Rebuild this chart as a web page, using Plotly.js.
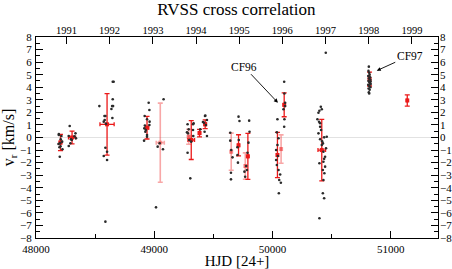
<!DOCTYPE html>
<html>
<head>
<meta charset="utf-8">
<script src="https://cdn.plot.ly/plotly-3.0.1.min.js"></script>
<style>html,body{margin:0;padding:0;background:#fff}#chart{width:452px;height:269px}</style>
</head>
<body>
<div id="chart"></div>
<script>
// Individual RV measurements (HJD-2400000, km/s)
const dotX = [
  48193,48215,48209,48190,48207,48224,48201,48193,48221,48198,48203,
  48285,48334,48277,48338,48296,48302,48291,48277,48325,
  48536,48649,48657,48649,48644,48652,48638,48579,48587,48581,48573,48591,48646,48587,48601,48573,48601,48587,
  48953,48959,48919,48939,48961,48959,48916,48925,48939,48914,48939,48921,48929,
  49079,49029,49074,49015,49046,
  49282,49291,49328,49328,49285,49296,49330,49282,49305,49313,49333,49277,
  49432,49446,49389,49437,49426,49446,49421,49429,49412,
  49643,49643,49662,49649,49649,49651,49713,49721,49704,49708,49704,49715,49803,49806,49797,49789,49778,49784,49769,49763,
  50099,50101,50107,50107,50093,50101,50099,50042,50037,50051,50042,50031,50046,50031,50037,50051,50065,50057,50071,50054,
  50389,50397,50409,50417,50380,50394,50403,50403,50389,50403,50437,50459,50417,50427,50453,50431,50445,50431,50397,50445,50426,50439,50431,50426,50437,50397,50451,50411,50420,50437,
  50815,50812,50818,50822,50810,50826,50815,50828,50812,50820,50826,50810,50818,50828,50813,50822,50815,50818,50830,50830
];
const dotV = [
  0.2,0.12,-0.14,-0.52,-0.7,-0.94,-1.53,0.28,-0.33,-0.78,-0.45,
  0.92,0.33,0.12,-0.06,-0.14,-0.2,-0.46,-0.68,0.1,
  2.5,4.44,4.44,3.04,2.5,2.5,2.27,1.71,1.71,1.39,1.26,1.1,1.55,-0.81,-1.13,-1.47,-1.79,-6.7,
  2.77,2.19,1.71,1.45,1.26,1.0,0.73,0.46,0.2,-0.25,0.06,0.95,0.6,
  3.04,-0.73,-0.94,-5.56,-0.46,
  1.05,0.65,1.05,0.6,0.33,-0.2,0.12,-1.21,-3.25,-0.33,1.13,0.42,
  1.74,1.39,0.65,1.0,0.46,0.12,1.18,1.71,1.23,
  0.38,-0.25,-1.58,-2.8,-3.33,-1.0,1.66,1.31,-1.39,-2.0,-0.78,-0.2,1.34,0.46,-0.41,-1.21,-2.27,-2.59,-3.12,-2.72,
  4.44,3.5,2.77,2.5,2.25,1.45,0.86,1.45,0.41,-0.06,-0.6,-1.0,-1.47,-1.79,-2.19,-2.59,-2.95,-3.38,-3.6,-4.44,
  1.97,2.13,2.45,2.25,1.45,1.25,0.86,1.13,0.33,-0.14,0.01,0.06,-0.6,-0.47,-0.86,-1.13,-1.53,-1.93,-2.05,-2.32,-2.59,-2.85,-3.38,-4.44,-4.84,-6.43,6.75,0.6,-0.3,-1.7,
  5.64,5.3,5.15,5.0,4.9,4.8,4.7,4.6,4.5,4.4,4.3,4.2,4.1,4.0,3.9,3.8,3.6,3.5,4.45,4.25
];

// Mean values with error bars (strong)
const meanX  = [48207,48305,48601,48939,49313,49383,49431,49713,49792,50099,50042,50417,50821,51140];
const meanV  = [-0.4, 0.0, 1.05, 0.78,-0.2, 0.35, 1.05,-0.62,-1.5, 2.6,-1.39,-1.0, 4.65, 2.95];
const meanEV = [0.65, 0.5, 2.45, 0.9, 1.55, 0.3, 0.35, 0.84, 1.83,0.95, 1.8, 2.45, 0.55, 0.45];
const meanEX = [10, 30, 60, 15, 28, 8, 10, 5, 5, 5, 5, 32, 5, 3];

// Mean values with error bars (faint)
const faintX  = [49051,49291,49651,49770,50073];
const faintV  = [-0.41,0.06,-1.13,-2.27,-0.92];
const faintEV = [3.15,0.6,1.48,1.05,1.13];
const faintEX = [34,8,5,5,5];

// Top axis: calendar years at JD of Jan 1
const yearLabels = ['1991','1992','1993','1994','1995','1996','1997','1998','1999'];
const yearJD = [48257.5,48622.5,48988.5,49353.5,49718.5,50083.5,50449.5,50814.5,51179.5];

const FONT = 'Liberation Serif, serif';
const RED = 'rgb(235,25,25)';
const PINK = 'rgba(240,60,60,0.45)';

const traces = [
  {type:'scatter', mode:'markers', x:faintX, y:faintV,
   marker:{symbol:'square', size:4, color:PINK},
   error_y:{type:'data', array:faintEV, visible:true, color:PINK, thickness:1.6, width:2.5},
   error_x:{type:'data', array:faintEX, visible:true, color:PINK, thickness:1.6, width:2},
   hoverinfo:'skip', showlegend:false},
  {type:'scatter', mode:'markers', x:meanX, y:meanV,
   marker:{symbol:'square', size:4, color:RED},
   error_y:{type:'data', array:meanEV, visible:true, color:RED, thickness:1.3, width:2.5},
   error_x:{type:'data', array:meanEX, visible:true, color:RED, thickness:1.3, width:2},
   hoverinfo:'skip', showlegend:false},
  {type:'scatter', mode:'markers', x:dotX, y:dotV,
   marker:{symbol:'circle', size:2.6, color:'#2a2a2a'},
   hoverinfo:'skip', showlegend:false},
  {type:'scatter', mode:'markers', x:[48000], y:[0], xaxis:'x2', yaxis:'y2',
   marker:{opacity:0}, hoverinfo:'skip', showlegend:false}
];

const axTickFont = {family:FONT, size:11, color:'#000'};

const layout = {
  width:452, height:269,
  margin:{l:36, r:14, t:37, b:31, pad:0},
  paper_bgcolor:'#fff', plot_bgcolor:'#fff',
  showlegend:false, hovermode:false,
  font:{family:FONT, color:'#000'},
  title:{text:'RVSS cross correlation', font:{family:FONT, size:17, color:'#000'},
         x:0.523, xanchor:'center', y:0.965, yanchor:'middle'},
  xaxis:{range:[48000,51400], showgrid:false, zeroline:false,
         showline:true, linecolor:'#000', linewidth:1, mirror:true,
         ticks:'inside', ticklen:7, tickwidth:1, tickcolor:'#000',
         tick0:48000, dtick:1000, tickformat:'d', tickfont:axTickFont, ticklabelstandoff:1,
         minor:{ticks:'inside', ticklen:4, dtick:500, tick0:48000, tickcolor:'#000', showgrid:false},
         title:{text:'HJD [24+]', font:{family:FONT, size:15, color:'#000'}, standoff:5}},
  xaxis2:{range:[48000,51400], overlaying:'x', side:'top', anchor:'y',
          showgrid:false, zeroline:false, showline:false,
          ticks:'inside', ticklen:7, tickwidth:1, tickcolor:'#000',
          tickmode:'array', tickvals:yearJD, ticktext:yearLabels,
          tickfont:{family:FONT, size:10.5, color:'#000'}},
  yaxis:{range:[-8,8], showgrid:false,
         zeroline:true, zerolinecolor:'#e2e2e2', zerolinewidth:1.6,
         showline:true, linecolor:'#000', linewidth:1, mirror:true,
         ticks:'inside', ticklen:7, tickwidth:1, tickcolor:'#000',
         tick0:0, dtick:1, tickfont:axTickFont, ticklabelstandoff:1,
         minor:{ticks:'inside', ticklen:4, dtick:0.5, tick0:0, tickcolor:'#000', showgrid:false},
         title:{text:'v<sub>r</sub> [km/s]', font:{family:FONT, size:16, color:'#000'}, standoff:2}},
  yaxis2:{range:[-8,8], overlaying:'y', side:'right', anchor:'x',
          showgrid:false, zeroline:false, showline:false,
          ticks:'inside', ticklen:7, tickwidth:1, tickcolor:'#000',
          tick0:0, dtick:1, tickfont:axTickFont, ticklabelstandoff:1,
          minor:{ticks:'inside', ticklen:4, dtick:0.5, tick0:0, tickcolor:'#000', showgrid:false}},
  annotations:[
    {x:50046, y:2.77, xref:'x', yref:'y', text:'CF96', showarrow:true,
     ax:-34, ay:-36, arrowhead:2, arrowsize:0.9, arrowwidth:0.9, arrowcolor:'#000',
     font:{family:FONT, size:11.5, color:'#000'}},
    {x:50882, y:5.32, xref:'x', yref:'y', text:'CF97', showarrow:true,
     ax:33, ay:-15, arrowhead:2, arrowsize:0.9, arrowwidth:0.9, arrowcolor:'#000',
     font:{family:FONT, size:11.5, color:'#000'}}
  ]
};

Plotly.newPlot('chart', traces, layout, {staticPlot:true, displayModeBar:false});
</script>
</body>
</html>
